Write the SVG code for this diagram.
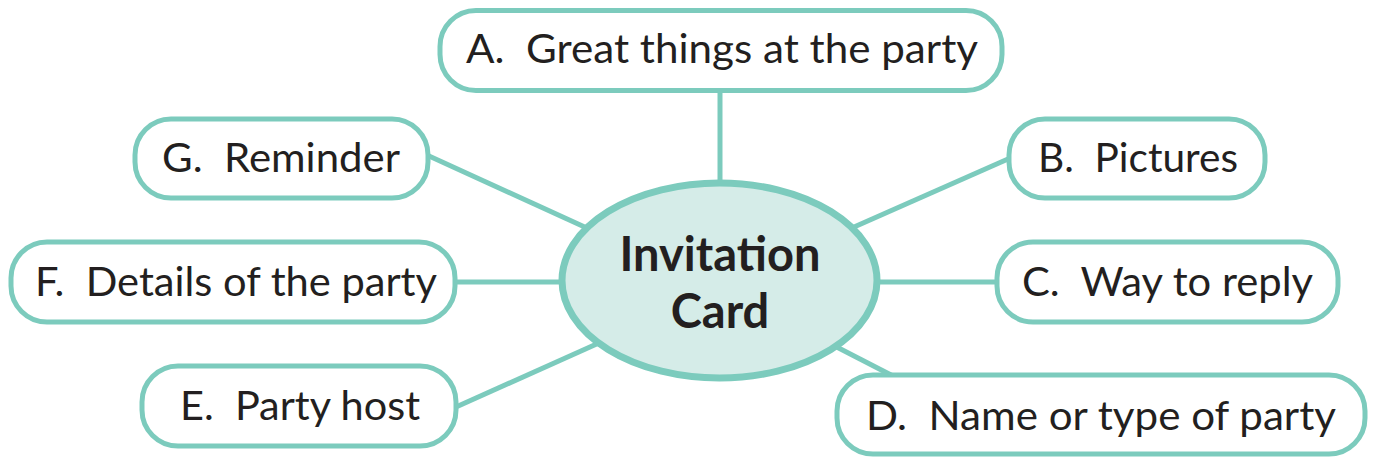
<svg xmlns="http://www.w3.org/2000/svg" width="1374" height="459" viewBox="0 0 1374 459">
<style>
.box{fill:#ffffff;stroke:#7ccbbd;stroke-width:5}
.lbl{font-family:Lato,"Liberation Sans",sans-serif;font-size:40px;fill:#231f20;white-space:pre}
.conn line{stroke:#7ccbbd;stroke-width:5}
.hub{fill:#d5ece8;stroke:#7ccbbd;stroke-width:7}
.hubt{font-family:Lato,"Liberation Sans",sans-serif;font-size:47px;font-weight:bold;fill:#231f20;text-anchor:middle}
</style>
<rect width="1374" height="459" fill="#ffffff"/>
<g id="connectors" class="conn">
<line x1="720" y1="90" x2="720" y2="200"/>
<line x1="429" y1="156" x2="600" y2="234"/>
<line x1="1008" y1="159" x2="845" y2="231"/>
<line x1="455" y1="282" x2="575" y2="282"/>
<line x1="865" y1="282" x2="997" y2="282"/>
<line x1="456" y1="407" x2="610" y2="338"/>
<line x1="825" y1="341" x2="893" y2="376"/>
</g>
<g id="hub">
<ellipse class="hub" cx="719.5" cy="280.5" rx="157.5" ry="97.5"/>
<text class="hubt" x="720" y="271">Invitation</text>
<text class="hubt" x="720" y="328">Card</text>
</g>
<g id="nodeA">
<rect class="box" x="440" y="10.5" width="562" height="80" rx="36"/>
<text class="lbl" x="466" y="63" textLength="512" lengthAdjust="spacingAndGlyphs">A.  Great things at the party</text>
</g>
<g id="nodeG">
<rect class="box" x="135" y="119" width="293" height="79" rx="36"/>
<text class="lbl" x="162" y="172" textLength="238" lengthAdjust="spacingAndGlyphs">G.  Reminder</text>
</g>
<g id="nodeB">
<rect class="box" x="1009" y="119" width="256" height="79" rx="36"/>
<text class="lbl" x="1038" y="172" textLength="200" lengthAdjust="spacingAndGlyphs">B.  Pictures</text>
</g>
<g id="nodeF">
<rect class="box" x="11" y="242" width="444" height="80" rx="36"/>
<text class="lbl" x="35" y="296" textLength="402" lengthAdjust="spacingAndGlyphs">F.  Details of the party</text>
</g>
<g id="nodeC">
<rect class="box" x="997" y="242" width="341" height="80" rx="36"/>
<text class="lbl" x="1022" y="296" textLength="291" lengthAdjust="spacingAndGlyphs">C.  Way to reply</text>
</g>
<g id="nodeE">
<rect class="box" x="142" y="366" width="314" height="80" rx="36"/>
<text class="lbl" x="180" y="420" textLength="240" lengthAdjust="spacingAndGlyphs">E.  Party host</text>
</g>
<g id="nodeD">
<rect class="box" x="837" y="375" width="528" height="79" rx="36"/>
<text class="lbl" x="866" y="430" textLength="470" lengthAdjust="spacingAndGlyphs">D.  Name or type of party</text>
</g>
</svg>
